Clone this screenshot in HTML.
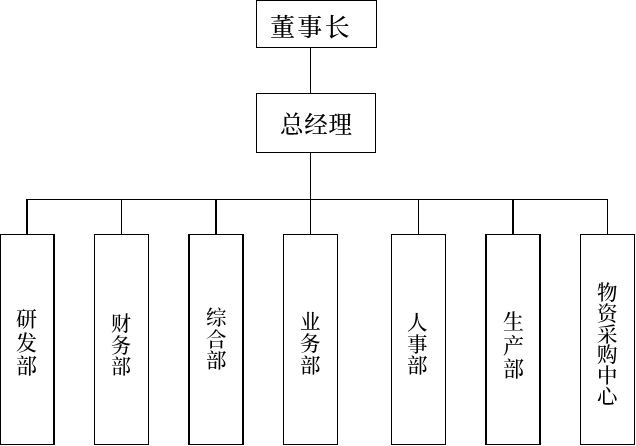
<!DOCTYPE html>
<html lang="zh-CN">
<head>
<meta charset="utf-8">
<title>组织结构图</title>
<style>
html,body{margin:0;padding:0;background:#fff;}
#chart{position:relative;width:636px;height:446px;overflow:hidden;background:#fff;font-family:"Liberation Serif", "Noto Serif CJK SC", serif;color:#000;}
.l{position:absolute;display:block;background:#000;}
.h,.v{position:absolute;margin:0;padding:0;font-weight:500;will-change:transform;}
.h{white-space:nowrap;}
.v{text-align:center;word-break:break-all;overflow-wrap:anywhere;}
</style>
</head>
<body>
<div id="chart">
<i class="l" style="left:256px;top:0px;width:121px;height:1px"></i>
<i class="l" style="left:256px;top:47px;width:121px;height:1px"></i>
<i class="l" style="left:256px;top:0px;width:1px;height:48px"></i>
<i class="l" style="left:376px;top:0px;width:1px;height:48px"></i>
<i class="l" style="left:256px;top:93px;width:120px;height:1px"></i>
<i class="l" style="left:256px;top:152px;width:120px;height:1px"></i>
<i class="l" style="left:256px;top:93px;width:1px;height:60px"></i>
<i class="l" style="left:375px;top:93px;width:1px;height:60px"></i>
<i class="l" style="left:310px;top:48px;width:1px;height:45px"></i>
<i class="l" style="left:310px;top:153px;width:1px;height:81px"></i>
<i class="l" style="left:26px;top:199px;width:582px;height:1px"></i>
<i class="l" style="left:0px;top:234px;width:55px;height:1px"></i>
<i class="l" style="left:0px;top:444px;width:55px;height:1px"></i>
<i class="l" style="left:0px;top:234px;width:1px;height:211px"></i>
<i class="l" style="left:53px;top:234px;width:2px;height:211px"></i>
<i class="l" style="left:94px;top:234px;width:55px;height:1px"></i>
<i class="l" style="left:94px;top:444px;width:55px;height:1px"></i>
<i class="l" style="left:94px;top:234px;width:1px;height:211px"></i>
<i class="l" style="left:148px;top:234px;width:1px;height:211px"></i>
<i class="l" style="left:188px;top:234px;width:56px;height:1px"></i>
<i class="l" style="left:188px;top:444px;width:56px;height:1px"></i>
<i class="l" style="left:188px;top:234px;width:2px;height:211px"></i>
<i class="l" style="left:242px;top:234px;width:2px;height:211px"></i>
<i class="l" style="left:283px;top:234px;width:55px;height:1px"></i>
<i class="l" style="left:283px;top:444px;width:55px;height:1px"></i>
<i class="l" style="left:283px;top:234px;width:1px;height:211px"></i>
<i class="l" style="left:337px;top:234px;width:1px;height:211px"></i>
<i class="l" style="left:391px;top:234px;width:55px;height:1px"></i>
<i class="l" style="left:391px;top:444px;width:55px;height:1px"></i>
<i class="l" style="left:391px;top:234px;width:1px;height:211px"></i>
<i class="l" style="left:445px;top:234px;width:1px;height:211px"></i>
<i class="l" style="left:485px;top:234px;width:56px;height:1px"></i>
<i class="l" style="left:485px;top:444px;width:56px;height:1px"></i>
<i class="l" style="left:485px;top:234px;width:2px;height:211px"></i>
<i class="l" style="left:539px;top:234px;width:2px;height:211px"></i>
<i class="l" style="left:580px;top:234px;width:55px;height:1px"></i>
<i class="l" style="left:580px;top:444px;width:55px;height:1px"></i>
<i class="l" style="left:580px;top:234px;width:1px;height:211px"></i>
<i class="l" style="left:634px;top:234px;width:1px;height:211px"></i>
<i class="l" style="left:26px;top:199px;width:2px;height:35px"></i>
<i class="l" style="left:121px;top:199px;width:1px;height:35px"></i>
<i class="l" style="left:215px;top:199px;width:2px;height:35px"></i>
<i class="l" style="left:418px;top:199px;width:1px;height:35px"></i>
<i class="l" style="left:512px;top:199px;width:2px;height:35px"></i>
<i class="l" style="left:607px;top:199px;width:1px;height:35px"></i>
<div class="h" id="n1" style="left:270px;top:15px;font-size:25px;line-height:25px;letter-spacing:2.36px">董事长</div>
<div class="h" id="n2" style="left:280px;top:114px;font-size:23.5px;line-height:23.5px;letter-spacing:0.8px">总经理</div>
<div class="v" id="d1" style="left:16px;top:308px;width:21px;font-size:21px;line-height:23.5px">研发部</div>
<div class="v" id="d2" style="left:111px;top:314px;width:20px;font-size:20px;line-height:21.5px">财务部</div>
<div class="v" id="d3" style="left:206px;top:308px;width:20.5px;font-size:20.5px;line-height:21.5px">综合部</div>
<div class="v" id="d4" style="left:300px;top:311px;width:20.5px;font-size:20.5px;line-height:22px">业务部</div>
<div class="v" id="d5" style="left:407px;top:313px;width:20.5px;font-size:20.5px;line-height:21.5px">人事部</div>
<div class="v" id="d6" style="left:503px;top:311px;width:21px;font-size:21px;line-height:23.5px">生产部</div>
<div class="v" id="d7" style="left:597px;top:283px;width:20.5px;font-size:20.5px;line-height:20.75px">物资采购中心</div>
</div>
</body>
</html>
